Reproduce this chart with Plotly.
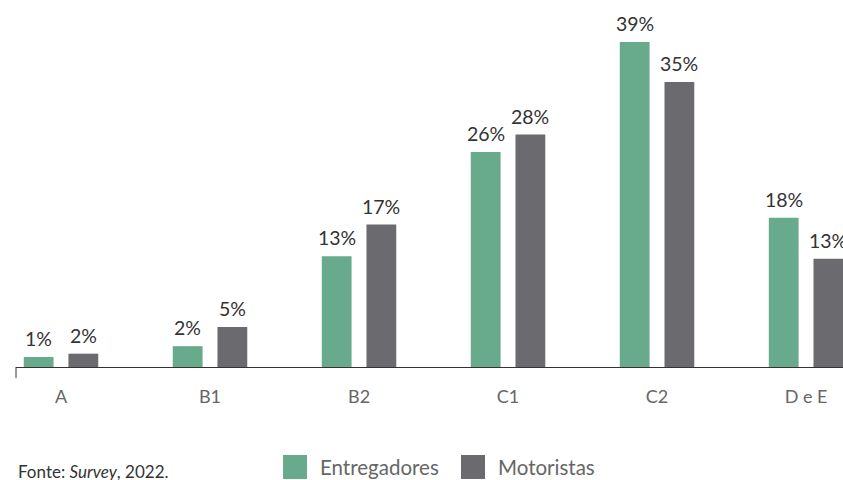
import plotly.graph_objects as go

categories = ["A", "B1", "B2", "C1", "C2", "D e E"]
entregadores = [1.2, 2.5, 13.3, 25.8, 39.0, 17.9]
motoristas = [1.6, 4.8, 17.1, 27.9, 34.2, 13.0]
entregadores_labels = ["1%", "2%", "13%", "26%", "39%", "18%"]
motoristas_labels = ["2%", "5%", "17%", "28%", "35%", "13%"]

GREEN = "#67aa8c"
GRAY = "#6b6b6f"
FONT = "Lato"

fig = go.Figure()
fig.add_trace(go.Bar(
    x=categories, y=entregadores, name="Entregadores",
    marker=dict(color=GREEN, line=dict(width=0)),
    width=0.2, offset=-0.25, cliponaxis=False,
))
fig.add_trace(go.Bar(
    x=categories, y=motoristas, name="Motoristas",
    marker=dict(color=GRAY, line=dict(width=0)),
    width=0.2, offset=0.05, cliponaxis=False,
))

label_annotations = []
for i, (v, t) in enumerate(zip(entregadores, entregadores_labels)):
    label_annotations.append(dict(
        x=i - 0.15, y=v, xref="x", yref="y", text=t, showarrow=False,
        xanchor="center", yanchor="bottom", yshift=5,
        font=dict(size=19.5, color="#333333", family=FONT)))
for i, (v, t) in enumerate(zip(motoristas, motoristas_labels)):
    label_annotations.append(dict(
        x=i + 0.15, y=v, xref="x", yref="y", text=t, showarrow=False,
        xanchor="center", yanchor="bottom", yshift=5,
        font=dict(size=19.5, color="#333333", family=FONT)))

fig.update_layout(
    width=843, height=480,
    margin=dict(l=16, r=0, t=8, b=113),
    paper_bgcolor="white", plot_bgcolor="white",
    showlegend=False,
    barmode="group",
    hovermode=False,
    font=dict(family=FONT, color="#333333"),
    xaxis=dict(
        range=[-0.302, 5.248], showgrid=False, zeroline=False,
        showline=True, linecolor="#333333", linewidth=1,
        ticks="", tickfont=dict(size=18, color="#666666", family=FONT),
        ticklabelstandoff=13,
    ),
    yaxis=dict(range=[0, 43.08], visible=False, showgrid=False, zeroline=False),
    shapes=[
        dict(type="line", xref="paper", yref="paper", x0=0, x1=0, y0=0, y1=-0.031,
             line=dict(color="#333333", width=1)),
        dict(type="rect", xref="paper", yref="paper", x0=0.3229, x1=0.3519,
             y0=-0.312, y1=-0.2451, fillcolor=GREEN, line=dict(width=0)),
        dict(type="rect", xref="paper", yref="paper", x0=0.5381, x1=0.5671,
             y0=-0.312, y1=-0.2451, fillcolor=GRAY, line=dict(width=0)),
    ],
    annotations=label_annotations + [
        dict(text="Entregadores", xref="paper", yref="paper", x=0.3652, y=-0.2786,
             xanchor="left", yanchor="middle", showarrow=False,
             font=dict(size=20.5, color="#666666", family=FONT)),
        dict(text="Motoristas", xref="paper", yref="paper", x=0.5804, y=-0.2786,
             xanchor="left", yanchor="middle", showarrow=False,
             font=dict(size=20.5, color="#666666", family=FONT)),
        dict(text="Fonte: <i>Survey</i>, 2022.", xref="paper", yref="paper", x=0, y=-0.2897,
             xanchor="left", yanchor="middle", showarrow=False,
             font=dict(size=17, color="#333333", family=FONT)),
    ],
)

fig.write_html(
    "out.html",
    config={"displayModeBar": False},
    post_script=(
        "document.documentElement.style.overflow='hidden';"
        "document.body.style.overflow='hidden';"
        "document.body.style.margin='0';"
    ),
)
